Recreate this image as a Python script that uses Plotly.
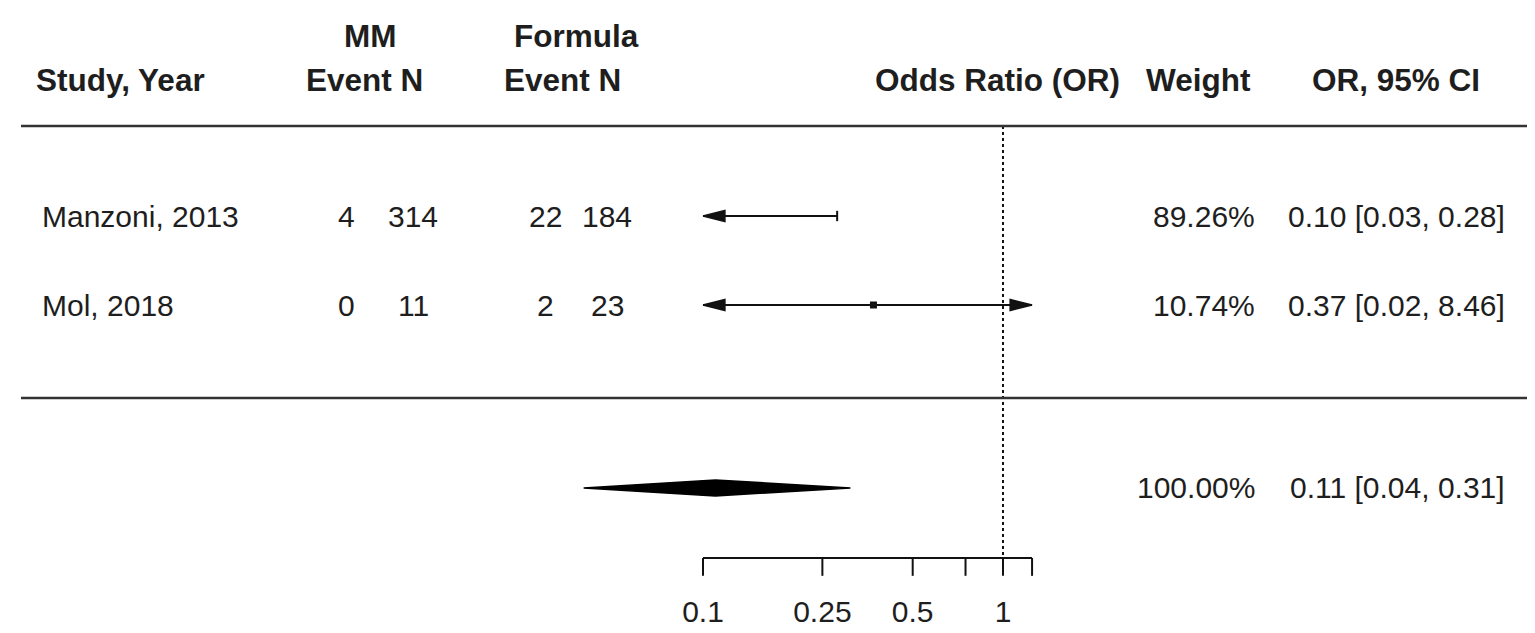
import numpy as np
import plotly.graph_objects as go

# ---------------- data ----------------
studies = ["Manzoni, 2013", "Mol, 2018"]
mm_events = [4, 0]
mm_n = [314, 11]
formula_events = [22, 2]
formula_n = [184, 23]
odds_ratios = [0.10, 0.37]
ci_lower = [0.03, 0.02]
ci_upper = [0.28, 8.46]
weights = [89.26, 10.74]

pooled_or = 0.11
pooled_lower = 0.04
pooled_upper = 0.31
pooled_weight = 100.00

tick_values = [0.1, 0.25, 0.5, 0.75, 1, 1.25]
tick_labels = ["0.1", "0.25", "0.5", "", "1", ""]
axis_min, axis_max = 0.1, 1.25
null_value = 1

# ---------------- layout constants ----------------
W, H = 1535, 633
PX_PER_DECADE = 300.0
X_AT_01 = 695.0          # pixel of OR = 0.1
PX_PER_ROW = 89.0
Y_ROW1 = 297.0           # pixel of row 1

study_rows = [2, 1]
summary_row = -1.056
header_line_row = 3.011
lower_line_row = -0.045
axis_row = -1.843
tick_len = 0.2
tick_label_row = -2.483
header_row2 = 3.528
header_row1 = 4.022

x_range = [np.log10(0.1) - X_AT_01 / PX_PER_DECADE,
           np.log10(0.1) + (W - X_AT_01) / PX_PER_DECADE]
y_range = [1 - (H - Y_ROW1) / PX_PER_ROW, 1 + Y_ROW1 / PX_PER_ROW]

FONT = "Liberation Sans, Arial, sans-serif"
FS = 30
FS_HEAD = 31.5
TXT = "#1e1e1e"
LINE = "#111111"

def px(xpix):
    return xpix / W

fig = go.Figure()

# ---------------- CI lines ----------------
arrow_len = 0.073   # decades
arrow_half = 0.062  # rows
cap_half = 0.058

for r, o, lo, hi, w in zip(study_rows, odds_ratios, ci_lower, ci_upper, weights):
    x0 = max(lo, axis_min)
    x1 = min(hi, axis_max)
    fig.add_trace(go.Scatter(x=[x0, x1], y=[r, r], mode="lines",
                             line=dict(color=LINE, width=2), hoverinfo="skip"))
    if lo < axis_min:
        xb = axis_min * 10 ** arrow_len
        fig.add_trace(go.Scatter(x=[axis_min, xb, xb, axis_min],
                                 y=[r, r + arrow_half, r - arrow_half, r],
                                 mode="lines", fill="toself", fillcolor=LINE,
                                 line=dict(color=LINE, width=1.5), hoverinfo="skip"))
    else:
        fig.add_trace(go.Scatter(x=[lo, lo], y=[r - cap_half, r + cap_half], mode="lines",
                                 line=dict(color=LINE, width=2), hoverinfo="skip"))
    if hi > axis_max:
        xb = axis_max / 10 ** arrow_len
        fig.add_trace(go.Scatter(x=[axis_max, xb, xb, axis_max],
                                 y=[r, r + arrow_half, r - arrow_half, r],
                                 mode="lines", fill="toself", fillcolor=LINE,
                                 line=dict(color=LINE, width=1.5), hoverinfo="skip"))
    else:
        fig.add_trace(go.Scatter(x=[hi, hi], y=[r - cap_half, r + cap_half], mode="lines",
                                 line=dict(color=LINE, width=2), hoverinfo="skip"))
    if axis_min < o < axis_max:
        fig.add_trace(go.Scatter(x=[o], y=[r], mode="markers",
                                 marker=dict(symbol="square", size=7, color=LINE,
                                             line=dict(width=0)),
                                 hoverinfo="skip"))

# ---------------- summary diamond ----------------
dh = 0.09
fig.add_trace(go.Scatter(
    x=[pooled_lower, pooled_or, pooled_upper, pooled_or, pooled_lower],
    y=[summary_row, summary_row + dh, summary_row, summary_row - dh, summary_row],
    mode="lines", fill="toself", fillcolor="black",
    line=dict(color="black", width=1.5), hoverinfo="skip"))

# ---------------- null line ----------------
fig.add_trace(go.Scatter(x=[null_value, null_value], y=[header_line_row, axis_row],
                         mode="lines", line=dict(color=LINE, width=2, dash="3px,3px"),
                         hoverinfo="skip"))

# ---------------- x axis (drawn) ----------------
fig.add_trace(go.Scatter(x=[axis_min, axis_max], y=[axis_row, axis_row], mode="lines",
                         line=dict(color=LINE, width=2), hoverinfo="skip"))
tx, ty = [], []
for t in tick_values:
    tx += [t, t, None]
    ty += [axis_row, axis_row - tick_len, None]
fig.add_trace(go.Scatter(x=tx, y=ty, mode="lines", line=dict(color=LINE, width=2),
                         hoverinfo="skip"))
fig.add_trace(go.Scatter(x=tick_values, y=[tick_label_row] * len(tick_values),
                         mode="text", text=tick_labels, textposition="middle center",
                         textfont=dict(family=FONT, size=FS, color=TXT), hoverinfo="skip"))

# ---------------- horizontal rules ----------------
shapes = []
for yr in [header_line_row, lower_line_row]:
    shapes.append(dict(type="line", xref="paper", yref="y", x0=px(13), x1=px(1522),
                       y0=yr, y1=yr, line=dict(color="#333333", width=2.5)))

# ---------------- text ----------------
ann = []
def add_text(xpix, yrow, text, anchor, bold=False):
    ann.append(dict(xref="paper", yref="y", x=px(xpix), y=yrow, text=text,
                    showarrow=False, xanchor=anchor, yanchor="middle",
                    font=dict(family=FONT, size=FS_HEAD if bold else FS, color=TXT,
                              weight="bold" if bold else "normal")))

# headers
add_text(26, header_row2, "Study, Year", "left", True)
add_text(362, header_row1, "MM", "center", True)
add_text(356, header_row2, "Event N", "center", True)
add_text(568, header_row1, "Formula", "center", True)
add_text(554, header_row2, "Event N", "center", True)
add_text(1114, header_row2, "Odds Ratio (OR)", "right", True)
add_text(1245, header_row2, "Weight", "right", True)
add_text(1388, header_row2, "OR, 95% CI", "center", True)

for r, s, me, mn, fe, fn, o, lo, hi, w in zip(study_rows, studies, mm_events, mm_n,
                                             formula_events, formula_n, odds_ratios,
                                             ci_lower, ci_upper, weights):
    add_text(32, r, s, "left")
    add_text(338, r, str(me), "center")
    add_text(405, r, str(mn), "center")
    add_text(537, r, str(fe), "center")
    add_text(599, r, str(fn), "center")
    add_text(1249, r, f"{w:.2f}%", "right")
    add_text(1499, r, f"{o:.2f} [{lo:.2f}, {hi:.2f}]", "right")

add_text(1249, summary_row, f"{pooled_weight:.2f}%", "right")
add_text(1499, summary_row, f"{pooled_or:.2f} [{pooled_lower:.2f}, {pooled_upper:.2f}]", "right")

fig.update_layout(
    width=W, height=H,
    margin=dict(l=0, r=0, t=0, b=0),
    paper_bgcolor="white", plot_bgcolor="white",
    showlegend=False,
    xaxis=dict(type="log", range=x_range, visible=False, fixedrange=True),
    yaxis=dict(range=y_range, visible=False, fixedrange=True),
    shapes=shapes, annotations=ann,
)

fig.write_html("out.html")
